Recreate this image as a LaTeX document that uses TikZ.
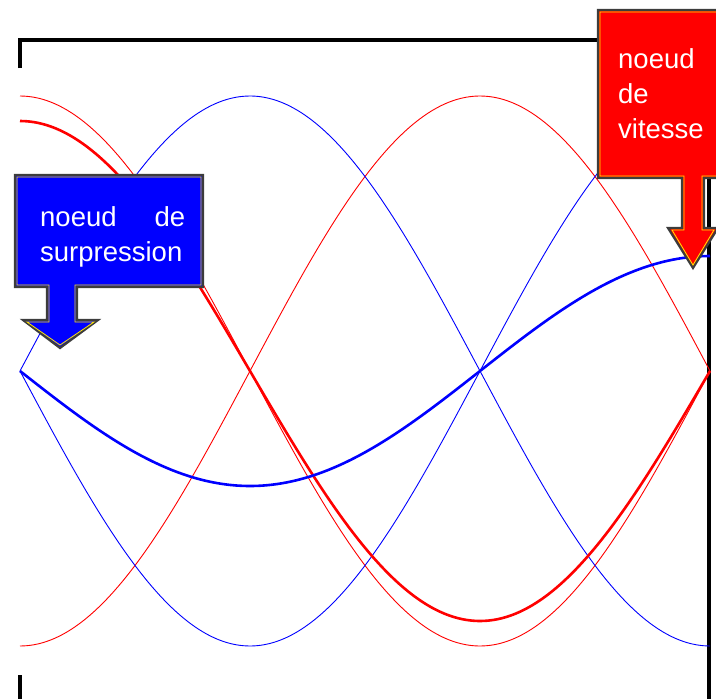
\documentclass[tikz,border=0pt]{standalone}
\usepackage{fontspec}
\setmainfont{Liberation Sans}
\definecolor{wavered}{RGB}{255,0,0}
\definecolor{waveblue}{RGB}{0,0,255}
\definecolor{edgegray}{RGB}{60,60,60}
\definecolor{edgeyellow}{RGB}{255,230,0}
\usetikzlibrary{positioning}

\begin{document}
\begin{tikzpicture}[
        x=1pt,y=-1pt,
        frame/.style={line width=3.5pt,black},
        thinwave/.style={line width=0.9pt,domain=20:710,samples=120,smooth},
        thickwave/.style={line width=2.6pt,domain=20:710,samples=120,smooth},
        callout/.style={draw=edgegray,line width=2.2pt,line join=miter},
        calloutedge/.style={draw=edgeyellow,line width=0.8pt,line join=miter},
        lbl/.style={font=\fontsize{27.5}{35}\selectfont,text=white,inner sep=0pt,align=left}]

    \useasboundingbox (0,0) rectangle (716,699);

    % cadre
    \draw[frame] (20,68) -- (20,40) -- (709,40) -- (709,699);
    \draw[frame] (20,675) -- (20,699);

    % ondes de pression et de vitesse
    \draw[thinwave,wavered]   plot (\x,{371-275*cos(0.391304*(\x-20))});
    \draw[thinwave,wavered]   plot (\x,{371+275*cos(0.391304*(\x-20))});
    \draw[thinwave,waveblue]  plot (\x,{371-275*sin(0.391304*(\x-20))});
    \draw[thinwave,waveblue]  plot (\x,{371+275*sin(0.391304*(\x-20))});
    \draw[thickwave,wavered]  plot (\x,{371-250*cos(0.391304*(\x-20))});
    \draw[thickwave,waveblue] plot (\x,{371+115*sin(0.391304*(\x-20))});

    % fleche bleue
    \fill[waveblue] (15,175) -- (203,175) -- (203,287) -- (77,287) -- (77,320)
        -- (98,320) -- (60,348) -- (23,320) -- (47,320) -- (47,287) -- (15,287) -- cycle;
    \draw[callout] (15,175) -- (203,175) -- (203,287) -- (77,287) -- (77,320)
        -- (98,320) -- (60,348) -- (23,320) -- (47,320) -- (47,287) -- (15,287) -- cycle;
    \draw[calloutedge] (17,177) -- (201,177) -- (201,285) -- (75,285) -- (75,322)
        -- (94,322) -- (60,345) -- (27,322) -- (49,322) -- (49,285) -- (17,285) -- cycle;
    \node[lbl,text width=145pt,anchor=base west] (surp) at (40,226)
        {noeud\hfill de\\surpression};

    % fleche rouge
    \fill[wavered] (598,10) -- (722,10) -- (722,178) -- (704,178) -- (704,228)
        -- (718,228) -- (693,268) -- (668,228) -- (682,228) -- (682,178) -- (598,178) -- cycle;
    \draw[callout] (598,10) -- (722,10) -- (722,178) -- (704,178) -- (704,228)
        -- (718,228) -- (693,268) -- (668,228) -- (682,228) -- (682,178) -- (598,178) -- cycle;
    \draw[calloutedge] (600,12) -- (722,12) -- (722,176) -- (702,176) -- (702,230)
        -- (714,230) -- (693,265) -- (672,230) -- (684,230) -- (684,176) -- (600,176) -- cycle;
    \node[lbl,text width=90pt,anchor=base west] (vit) at (618,68)
        {noeud\\de\\vitesse};

\end{tikzpicture}
\end{document}
